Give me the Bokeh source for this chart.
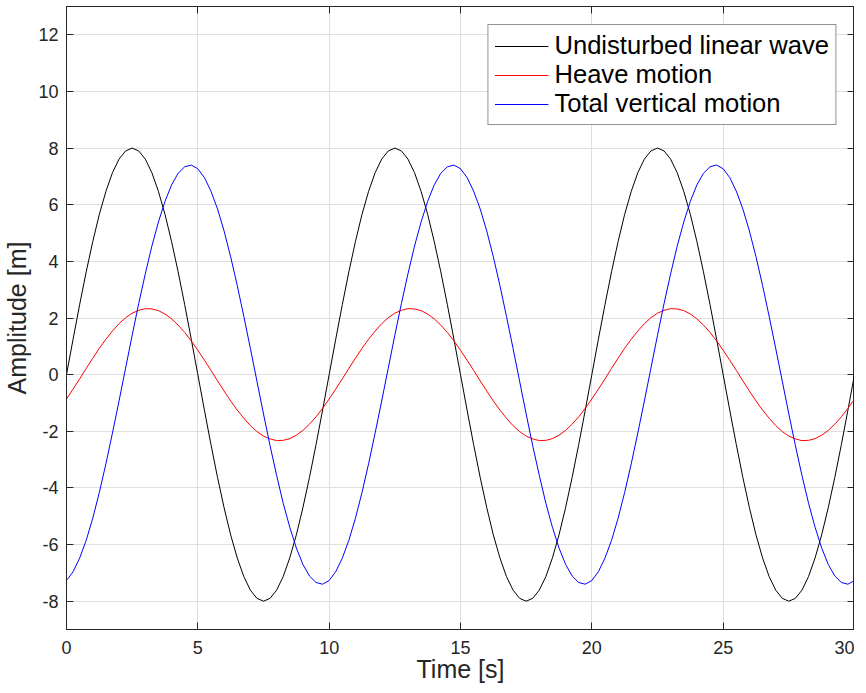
from bokeh.plotting import figure
from bokeh.models import (LinearAxis, Range1d, FixedTicker, CustomJSTickFormatter,
                          Legend, LegendItem)
from bokeh.embed import file_html
from bokeh.resources import INLINE

time_s = [round(i * 0.25, 2) for i in range(121)]

undisturbed = [
    0, 1.25, 2.47, 3.63, 4.70, 5.66, 6.47, 7.13, 7.61, 7.90,
    8.00, 7.90, 7.61, 7.13, 6.47, 5.66, 4.70, 3.63, 2.47, 1.25,
    0, -1.25, -2.47, -3.63, -4.70, -5.66, -6.47, -7.13, -7.61, -7.90,
    -8.00, -7.90, -7.61, -7.13, -6.47, -5.66, -4.70, -3.63, -2.47, -1.25,
    0, 1.25, 2.47, 3.63, 4.70, 5.66, 6.47, 7.13, 7.61, 7.90,
    8.00, 7.90, 7.61, 7.13, 6.47, 5.66, 4.70, 3.63, 2.47, 1.25,
    0, -1.25, -2.47, -3.63, -4.70, -5.66, -6.47, -7.13, -7.61, -7.90,
    -8.00, -7.90, -7.61, -7.13, -6.47, -5.66, -4.70, -3.63, -2.47, -1.25,
    0, 1.25, 2.47, 3.63, 4.70, 5.66, 6.47, 7.13, 7.61, 7.90,
    8.00, 7.90, 7.61, 7.13, 6.47, 5.66, 4.70, 3.63, 2.47, 1.25,
    0, -1.25, -2.47, -3.63, -4.70, -5.66, -6.47, -7.13, -7.61, -7.90,
    -8.00, -7.90, -7.61, -7.13, -6.47, -5.66, -4.70, -3.63, -2.47, -1.25,
    0,
]

heave = [
    -0.86, -0.51, -0.15, 0.22, 0.58, 0.93, 1.25, 1.54, 1.80, 2.01,
    2.17, 2.27, 2.33, 2.32, 2.26, 2.14, 1.97, 1.75, 1.49, 1.19,
    0.86, 0.51, 0.15, -0.22, -0.58, -0.93, -1.25, -1.54, -1.80, -2.01,
    -2.17, -2.27, -2.33, -2.32, -2.26, -2.14, -1.97, -1.75, -1.49, -1.19,
    -0.86, -0.51, -0.15, 0.22, 0.58, 0.93, 1.25, 1.54, 1.80, 2.01,
    2.17, 2.27, 2.33, 2.32, 2.26, 2.14, 1.97, 1.75, 1.49, 1.19,
    0.86, 0.51, 0.15, -0.22, -0.58, -0.93, -1.25, -1.54, -1.80, -2.01,
    -2.17, -2.27, -2.33, -2.32, -2.26, -2.14, -1.97, -1.75, -1.49, -1.19,
    -0.86, -0.51, -0.15, 0.22, 0.58, 0.93, 1.25, 1.54, 1.80, 2.01,
    2.17, 2.27, 2.33, 2.32, 2.26, 2.14, 1.97, 1.75, 1.49, 1.19,
    0.86, 0.51, 0.15, -0.22, -0.58, -0.93, -1.25, -1.54, -1.80, -2.01,
    -2.17, -2.27, -2.33, -2.32, -2.26, -2.14, -1.97, -1.75, -1.49, -1.19,
    -0.86,
]

total = [
    -7.27, -6.96, -6.48, -5.85, -5.07, -4.16, -3.15, -2.06, -0.93, 0.23,
    1.39, 2.51, 3.56, 4.54, 5.39, 6.12, 6.70, 7.11, 7.34, 7.40,
    7.27, 6.96, 6.48, 5.85, 5.07, 4.16, 3.15, 2.06, 0.93, -0.23,
    -1.39, -2.51, -3.56, -4.54, -5.39, -6.12, -6.70, -7.11, -7.34, -7.40,
    -7.27, -6.96, -6.48, -5.85, -5.07, -4.16, -3.15, -2.06, -0.93, 0.23,
    1.39, 2.51, 3.56, 4.54, 5.39, 6.12, 6.70, 7.11, 7.34, 7.40,
    7.27, 6.96, 6.48, 5.85, 5.07, 4.16, 3.15, 2.06, 0.93, -0.23,
    -1.39, -2.51, -3.56, -4.54, -5.39, -6.12, -6.70, -7.11, -7.34, -7.40,
    -7.27, -6.96, -6.48, -5.85, -5.07, -4.16, -3.15, -2.06, -0.93, 0.23,
    1.39, 2.51, 3.56, 4.54, 5.39, 6.12, 6.70, 7.11, 7.34, 7.40,
    7.27, 6.96, 6.48, 5.85, 5.07, 4.16, 3.15, 2.06, 0.93, -0.23,
    -1.39, -2.51, -3.56, -4.54, -5.39, -6.12, -6.70, -7.11, -7.34, -7.40,
    -7.27,
]

series_names = ["Undisturbed linear wave", "Heave motion", "Total vertical motion"]
series_colors = ["#000000", "#ff0000", "#0000ff"]
x_ticks = [0, 5, 10, 15, 20, 25, 30]
y_ticks = [-8, -6, -4, -2, 0, 2, 4, 6, 8, 10, 12]
x_label = "Time [s]"
y_label = "Amplitude [m]"
x_min, x_max = 0, 30
y_min, y_max = -9, 13

FONT = "Liberation Sans"
AX = "#262626"
GRID = "#dfdfdf"

p = figure(width=854, height=685, output_backend="svg", toolbar_location=None,
           x_range=Range1d(x_min, x_max), y_range=Range1d(y_min, y_max),
           min_border_left=59, min_border_right=0, min_border_top=6,
           min_border_bottom=56)
p.background_fill_color = "white"
p.border_fill_color = "white"
p.outline_line_color = AX
p.outline_line_width = 1

plain = CustomJSTickFormatter(code="return tick.toString();")
for ax, ticks, lab in ((p.xaxis[0], x_ticks, x_label), (p.yaxis[0], y_ticks, y_label)):
    ax.ticker = FixedTicker(ticks=ticks)
    ax.formatter = plain
    ax.major_tick_in = 7
    ax.major_tick_out = 0
    ax.minor_tick_in = 0
    ax.minor_tick_out = 0
    ax.axis_line_color = AX
    ax.major_tick_line_color = AX
    ax.major_label_text_font = FONT
    ax.major_label_text_font_size = "18px"
    ax.major_label_text_color = AX
    ax.axis_label = lab
    ax.axis_label_text_font = FONT
    ax.axis_label_text_font_size = "25px"
    ax.axis_label_text_font_style = "normal"
    ax.axis_label_text_color = AX
p.xaxis[0].major_label_standoff = 11
p.xaxis[0].axis_label_standoff = -2
p.yaxis[0].major_label_standoff = 8
p.yaxis[0].axis_label_standoff = 4

p.xgrid.ticker = FixedTicker(ticks=x_ticks)
p.ygrid.ticker = FixedTicker(ticks=y_ticks)
for g in (p.xgrid, p.ygrid):
    g.grid_line_color = GRID
    g.grid_line_width = 1

# box ticks on the right and top (MATLAB "box on")
for place, ticks in (("right", y_ticks), ("above", x_ticks)):
    extra = LinearAxis(ticker=FixedTicker(ticks=ticks),
                       formatter=CustomJSTickFormatter(code="return ''"),
                       major_tick_in=7, major_tick_out=0,
                       minor_tick_in=0, minor_tick_out=0,
                       major_label_standoff=0, axis_label_standoff=0,
                       major_label_text_font_size="1px",
                       axis_line_color=AX, major_tick_line_color=AX)
    p.add_layout(extra, place)

renderers = []
for ys, col in zip((undisturbed, heave, total), series_colors):
    r = p.line(time_s, ys, line_color=col, line_width=1)
    renderers.append(r)

legend = Legend(items=[LegendItem(label=n, renderers=[r]) for n, r in zip(series_names, renderers)],
                location="top_right", margin=18,
                label_text_font=FONT, label_text_font_size="25.6px", label_text_color="black",
                glyph_width=54, glyph_height=20, label_standoff=6, padding=6, spacing=0,
                label_height=29, border_line_color=AX, border_line_width=1,
                background_fill_color="white", background_fill_alpha=1)
p.add_layout(legend)

open("out.html", "w").write(file_html(p, INLINE))
